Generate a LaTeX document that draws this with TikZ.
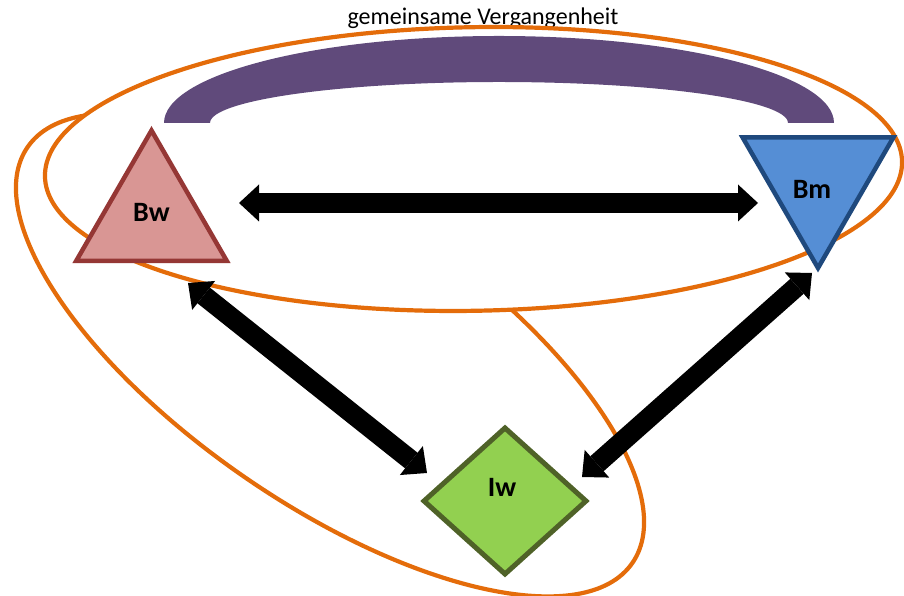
\documentclass[tikz,border=0pt]{standalone}
\usepackage{fontspec}
\setmainfont{Carlito}
\usetikzlibrary{shapes.geometric,arrows.meta}

\definecolor{ringorange}{HTML}{E46C0A}
\definecolor{pastpurple}{HTML}{604A7B}
\definecolor{bwfill}{HTML}{D99694}
\definecolor{bwline}{HTML}{953735}
\definecolor{bmfill}{HTML}{558ED5}
\definecolor{bmline}{HTML}{1F497D}
\definecolor{iwfill}{HTML}{92D050}
\definecolor{iwline}{HTML}{4F6228}

\tikzset{
  ring/.style={draw=ringorange, line width=4.2pt, fill=white},
  pastarc/.style={fill=pastpurple},
  tri/.style={regular polygon, regular polygon sides=3, minimum size=174pt,
    inner sep=0pt, outer sep=0pt, line width=4.5pt},
  bwtri/.style={tri, fill=bwfill, draw=bwline},
  bmtri/.style={tri, shape border rotate=180, fill=bmfill, draw=bmline},
  iwdia/.style={diamond, minimum width=162pt, minimum height=146pt,
    inner sep=0pt, outer sep=0pt, line width=5pt, fill=iwfill, draw=iwline},
  lbl/.style={font=\fontsize{28}{32}\selectfont\bfseries},
  titletext/.style={font=\fontsize{24}{28}\selectfont},
  bothway/.style={line width=20pt,
    {Triangle[width=37pt,length=20pt,line width=0pt]}-{Triangle[width=37pt,length=20pt,line width=0pt]}}
}

\begin{document}
\begin{tikzpicture}[x=1pt,y=1pt]
  \useasboundingbox (0,0) rectangle (904,596);

  % title
  \node[titletext, anchor=base] (past) at (483,571) {gemeinsame Vergangenheit};

  % rings
  \draw[ring, rotate around={-34.5:(330,241)}] (330,241) ellipse [x radius=367, y radius=149];
  \draw[ring, rotate around={1:(473.5,427)}] (473.5,427) ellipse [x radius=428.6, y radius=141.8];

  % purple arch
  \fill[pastarc] (164,473) arc[start angle=180, end angle=0, x radius=335, y radius=87]
    -- (788,473) arc[start angle=0, end angle=180, x radius=289, y radius=41] -- cycle;

  % shapes
  \node[bwtri, label={[lbl, yshift=5pt]center:Bw}] (bw) at (151.5,378.5) {};
  \node[bmtri, label={[lbl, xshift=-6pt, yshift=-8pt]center:Bm}] (bm) at (818,415) {};
  \node[iwdia, label={[lbl, xshift=-3pt, yshift=14pt]center:Iw}] (iw) at (505,95) {};

  % arrow ends
  \coordinate (bw-e) at (239,393);
  \coordinate (bm-w) at (758,393);
  \coordinate (bw-s) at (188,313);
  \coordinate (iw-nw) at (427,123);
  \coordinate (bm-s) at (812,323);
  \coordinate (iw-ne) at (582,119);

  % arrows
  \draw[bothway] (bw-e) -- (bm-w);
  \draw[bothway] (bw-s) -- (iw-nw);
  \draw[bothway] (bm-s) -- (iw-ne);
\end{tikzpicture}
\end{document}
